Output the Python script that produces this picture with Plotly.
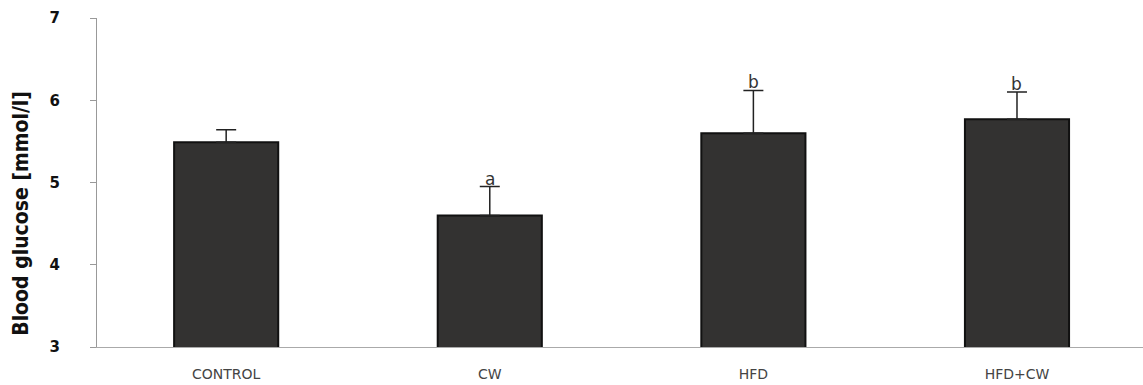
import plotly.graph_objects as go

# Blood glucose per group (mmol/l), with SD and significance letters
groups = ["CONTROL", "CW", "HFD", "HFD+CW"]
glucose = [5.49, 4.60, 5.60, 5.77]
sd = [0.15, 0.35, 0.52, 0.33]
letters = ["", "a", "b", "b"]
y_ticks = [3, 4, 5, 6, 7]

fig = go.Figure()

fig.add_trace(go.Bar(
    x=groups,
    y=glucose,
    base=0,
    width=0.395,
    marker=dict(color="#333231", line=dict(color="#111111", width=2)),
    error_y=dict(type="data", array=sd, symmetric=False, arrayminus=[0] * len(sd),
                 color="#222222", thickness=1.5, width=10, visible=True),
    showlegend=False,
))

# Significance letters sit right above each error bar
for g, v, e, t in zip(groups, glucose, sd, letters):
    if t:
        fig.add_annotation(
            x=g, y=v + e, text=t, showarrow=False,
            yanchor="bottom", yshift=-4,
            font=dict(family="DejaVu Sans", size=17, color="#333333"),
        )

# Y-axis title, placed a little below the middle of the axis
fig.add_annotation(
    text="Blood glucose [mmol/l]", textangle=-90,
    xref="paper", yref="paper", x=0, y=0.405,
    xanchor="center", yanchor="middle", xshift=-76, showarrow=False,
    font=dict(family="DejaVu Sans Condensed, Liberation Sans", size=21,
              color="#111111", weight="bold"),
)

fig.update_layout(
    width=1143, height=385,
    margin=dict(l=97, r=0, t=18, b=38),
    paper_bgcolor="white", plot_bgcolor="white",
    bargap=0.6,
)

fig.update_xaxes(
    type="category",
    range=[-0.49, 3.478],
    showline=True, linecolor="#aaaaaa", linewidth=1,
    ticks="", showgrid=False, zeroline=False,
    ticklabelstandoff=14,
    tickfont=dict(family="DejaVu Sans", size=14, color="#444444"),
)

fig.update_yaxes(
    range=[3, 7],
    tickvals=y_ticks,
    ticktext=[str(v) for v in y_ticks],
    showline=True, linecolor="#999999", linewidth=1,
    ticks="outside", ticklen=6, tickcolor="#999999",
    ticklabelstandoff=27,
    showgrid=False, zeroline=False,
    tickfont=dict(family="DejaVu Sans", size=15, color="#111111", weight="bold"),
)

fig.write_html("out.html")
